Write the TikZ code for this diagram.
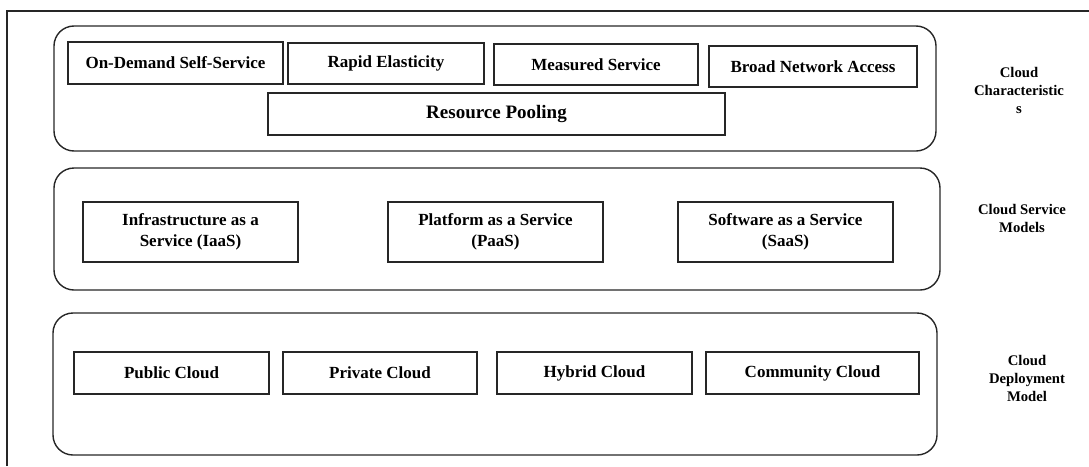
\documentclass[tikz,border=0pt]{standalone}
\usepackage{fontspec}
\setmainfont{Liberation Serif}
\begin{document}
\begin{tikzpicture}[x=1pt,y=-1pt,
  frame/.style={draw=black!85,line width=1.4pt},
  layer/.style={draw=black!85,line width=1.4pt,rounded corners=20pt,inner sep=0pt},
  box/.style={draw=black!85,line width=1.3pt,inner sep=0pt,align=center,
    font=\fontsize{17}{20.5}\selectfont\bfseries},
  side/.style={align=center,font=\fontsize{14.7}{18}\selectfont\bfseries}]
\useasboundingbox (0,0) rectangle (1089,466);
\coordinate (fa) at (7,466);
\coordinate (fb) at (7,11);
\coordinate (fc) at (1089,11);
\draw[frame] (fa) -- (fb) -- (fc);
% layers
\node[layer,minimum width=882pt,minimum height=125pt] (l1) at (495,88.5) {};
\node[layer,minimum width=886pt,minimum height=122pt] (l2) at (497,229) {};
\node[layer,minimum width=884pt,minimum height=142pt] (l3) at (495,384) {};
% row 1
\node[box,minimum width=215pt,minimum height=42pt] (ods) at (175.5,63) {On-Demand Self-Service};
\node[box,minimum width=196pt,minimum height=41pt] (re) at (386,63.5) {Rapid Elasticity};
\node[box,minimum width=204pt,minimum height=41pt] (ms) at (596,64.5) {Measured Service};
\node[box,minimum width=208pt,minimum height=41pt] (bna) at (813,66.5) {Broad Network Access};
\node[box,minimum width=457pt,minimum height=42pt,font=\fontsize{19}{22}\selectfont\bfseries] (rp) at (496.5,114) {Resource Pooling};
% row 2
\node[box,minimum width=215pt,minimum height=60pt] (iaas) at (190.5,232) {Infrastructure as a\\Service (IaaS)};
\node[box,minimum width=215pt,minimum height=60pt] (paas) at (495.5,232) {Platform as a Service\\(PaaS)};
\node[box,minimum width=215pt,minimum height=60pt] (saas) at (785.5,232) {Software as a Service\\(SaaS)};
% row 3
\node[box,minimum width=195pt,minimum height=42pt] (pub) at (171.5,373) {Public Cloud};
\node[box,minimum width=194pt,minimum height=42pt] (pri) at (380,373) {Private Cloud};
\node[box,minimum width=195pt,minimum height=42pt] (hyb) at (594.5,373) {Hybrid Cloud};
\node[box,minimum width=213pt,minimum height=42pt] (com) at (812.5,373) {Community Cloud};
% side labels
\node[side] (s1) at (1019,90.5) {Cloud\\Characteristic\\s};
\node[side] (s2) at (1022,218.5) {Cloud Service\\Models};
\node[side] (s3) at (1027,378) {Cloud\\Deployment\\Model};
\end{tikzpicture}
\end{document}
